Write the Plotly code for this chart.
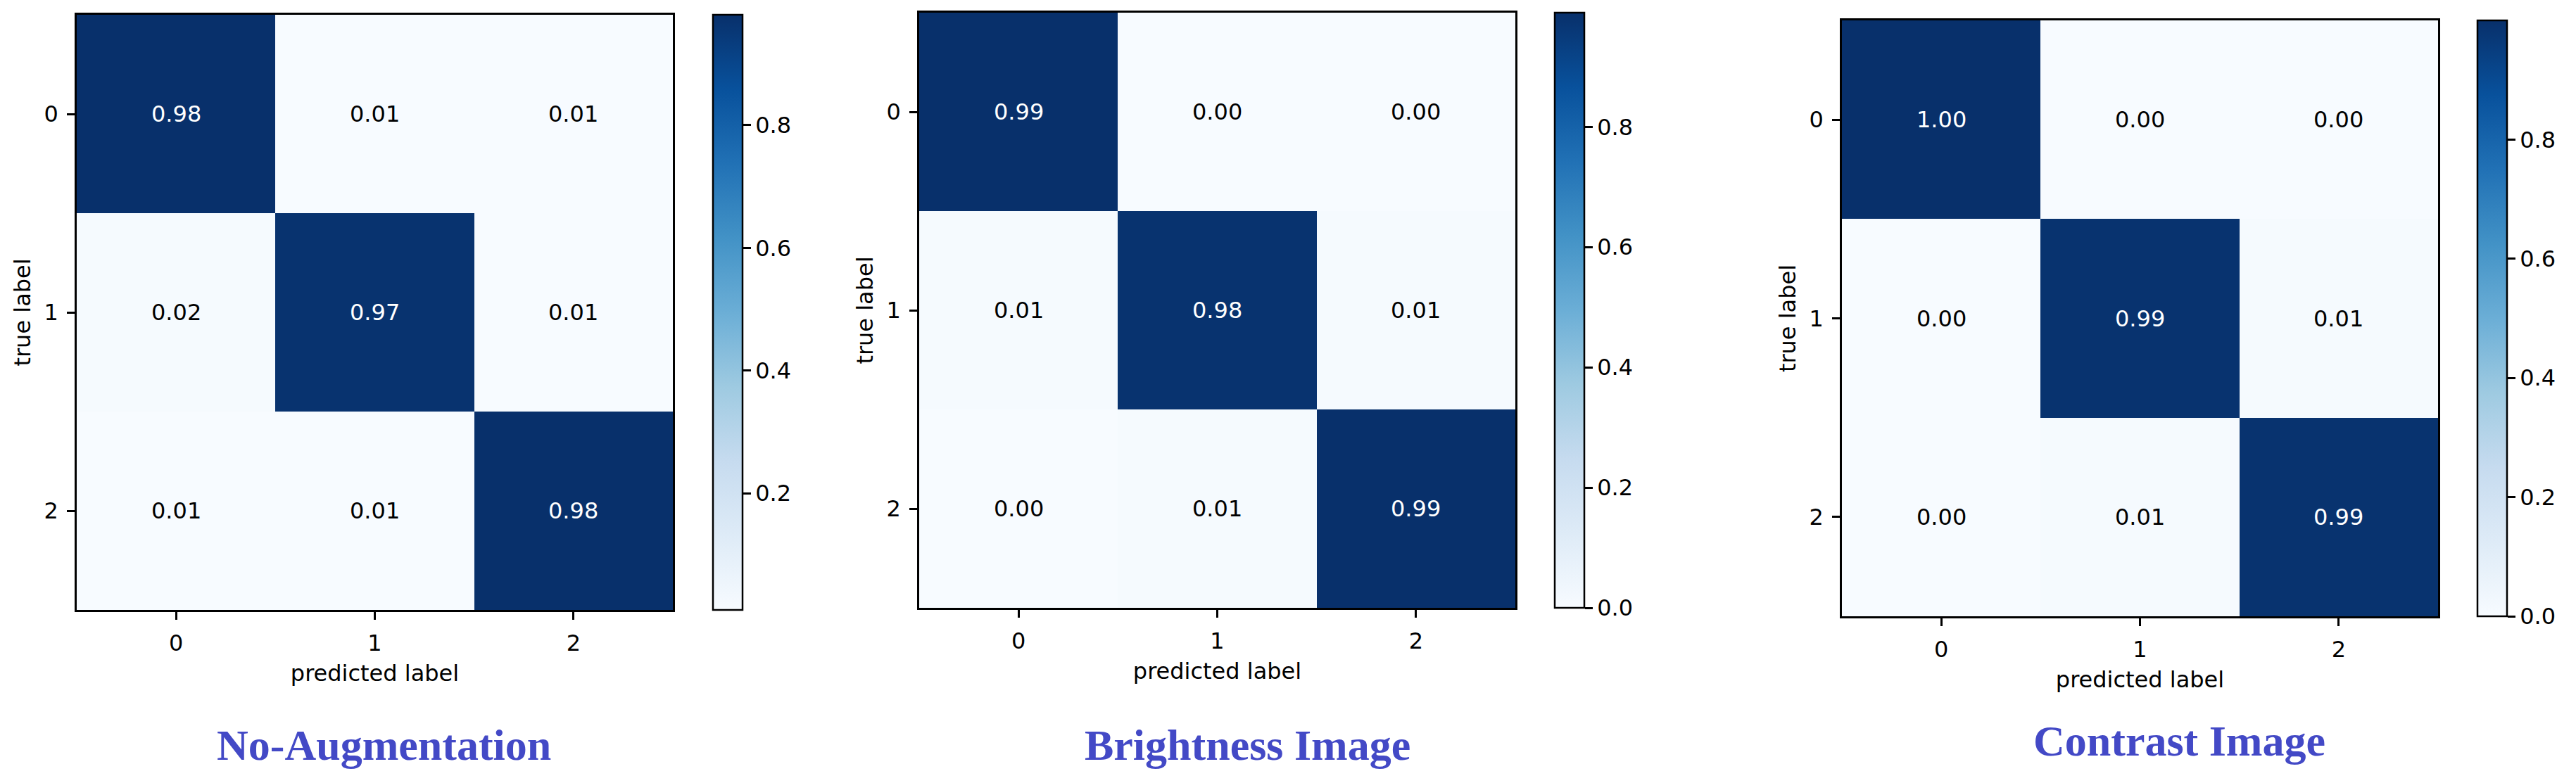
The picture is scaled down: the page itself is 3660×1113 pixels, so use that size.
import plotly.graph_objects as go
import plotly.express as px

W, H = 3660, 1113

#   Confusion matrices (normalised)
labels = ["0", "1", "2"]
cm_no_aug = [[0.98, 0.01, 0.01],
             [0.02, 0.97, 0.01],
             [0.01, 0.01, 0.98]]
cm_brightness = [[0.99, 0.00, 0.00],
                 [0.01, 0.98, 0.01],
                 [0.00, 0.01, 0.99]]
cm_contrast = [[1.00, 0.00, 0.00],
               [0.00, 0.99, 0.01],
               [0.00, 0.01, 0.99]]
titles = ["No-Augmentation", "Brightness Image", "Contrast Image"]
cbar_ticks = [0.0, 0.2, 0.4, 0.6, 0.8]

#   Pixel layout of each panel (heatmap box, colorbar left edge, caption centre)
heat_x = [(109, 956), (1306, 2153), (2617, 3464)]
heat_y = [(21, 867), (18, 864), (29, 876)]
cbar_left = [1013, 2209, 3520]
caption_pos = [(545, 1059), (1772, 1059), (3096, 1053)]

FONT = "DejaVu Sans"
blues = px.colors.sequential.Blues

fig = go.Figure()
matrices = [cm_no_aug, cm_brightness, cm_contrast]

for k, cm in enumerate(matrices):
    n = k + 1
    xa = "x" if n == 1 else f"x{n}"
    ya = "y" if n == 1 else f"y{n}"
    flat = [v for row in cm for v in row]
    zmin, zmax = min(flat), max(flat)
    y0, y1 = heat_y[k]
    fig.add_trace(go.Heatmap(
        z=cm, x=[0, 1, 2], y=[0, 1, 2],
        colorscale=blues, zmin=zmin, zmax=zmax,
        xaxis=xa, yaxis=ya, hoverinfo="skip",
        colorbar=dict(
            x=cbar_left[k] / W, xanchor="left", xpad=0, ypad=0,
            y=1 - (y0 + y1) / 2 / H, yanchor="middle",
            lenmode="pixels", len=y1 - y0,
            thicknessmode="pixels", thickness=42,
            outlinewidth=2.5, outlinecolor="black",
            tickvals=cbar_ticks, tickformat=".1f",
            ticks="outside", ticklen=11, tickwidth=2.5, tickcolor="black",
            tickfont=dict(family=FONT, size=32, color="black"),
        ),
    ))
    #   white text on dark cells, like matplotlib's ConfusionMatrixDisplay
    thr = (zmin + zmax) / 2
    for i, row in enumerate(cm):
        for j, v in enumerate(row):
            fig.add_annotation(
                x=j, y=i, xref=xa, yref=ya, text=f"{v:.2f}", showarrow=False,
                font=dict(family=FONT, size=32, color="white" if v > thr else "black"),
            )
    axis_common = dict(
        tickvals=[0, 1, 2], ticktext=labels,
        ticks="outside", ticklen=11, tickwidth=2.5, tickcolor="black",
        tickfont=dict(family=FONT, size=32, color="black"),
        showline=True, mirror=True, linecolor="black", linewidth=2.5,
        showgrid=False, zeroline=False, ticklabelstandoff=6,
        automargin=False,
    )
    x0, x1 = heat_x[k]
    fig.update_layout({
        ("xaxis" if n == 1 else f"xaxis{n}"): dict(
            axis_common, domain=[x0 / W, x1 / W], range=[-0.5, 2.5],
            anchor=ya,
            title=dict(text="predicted label", standoff=14,
                       font=dict(family=FONT, size=32, color="black")),
        ),
        ("yaxis" if n == 1 else f"yaxis{n}"): dict(
            axis_common, domain=[1 - y1 / H, 1 - y0 / H], range=[2.5, -0.5],
            anchor=xa,
            title=dict(text="true label", standoff=10,
                       font=dict(family=FONT, size=32, color="black")),
        ),
    })
    cx, cy = caption_pos[k]
    fig.add_annotation(
        x=cx / W, y=1 - cy / H, xref="paper", yref="paper",
        text=f"<b>{titles[k]}</b>", showarrow=False,
        xanchor="center", yanchor="middle",
        font=dict(family="Liberation Serif", size=62, color="#4349C6"),
    )

fig.update_layout(
    template="none",
    width=W, height=H,
    margin=dict(l=0, r=0, t=0, b=0),
    paper_bgcolor="white", plot_bgcolor="white",
)

#   drop the browser's default body margin so the figure sits at (0, 0)
fig.write_html("out.html", config={"displayModeBar": False},
               post_script="document.body.style.margin='0';")
